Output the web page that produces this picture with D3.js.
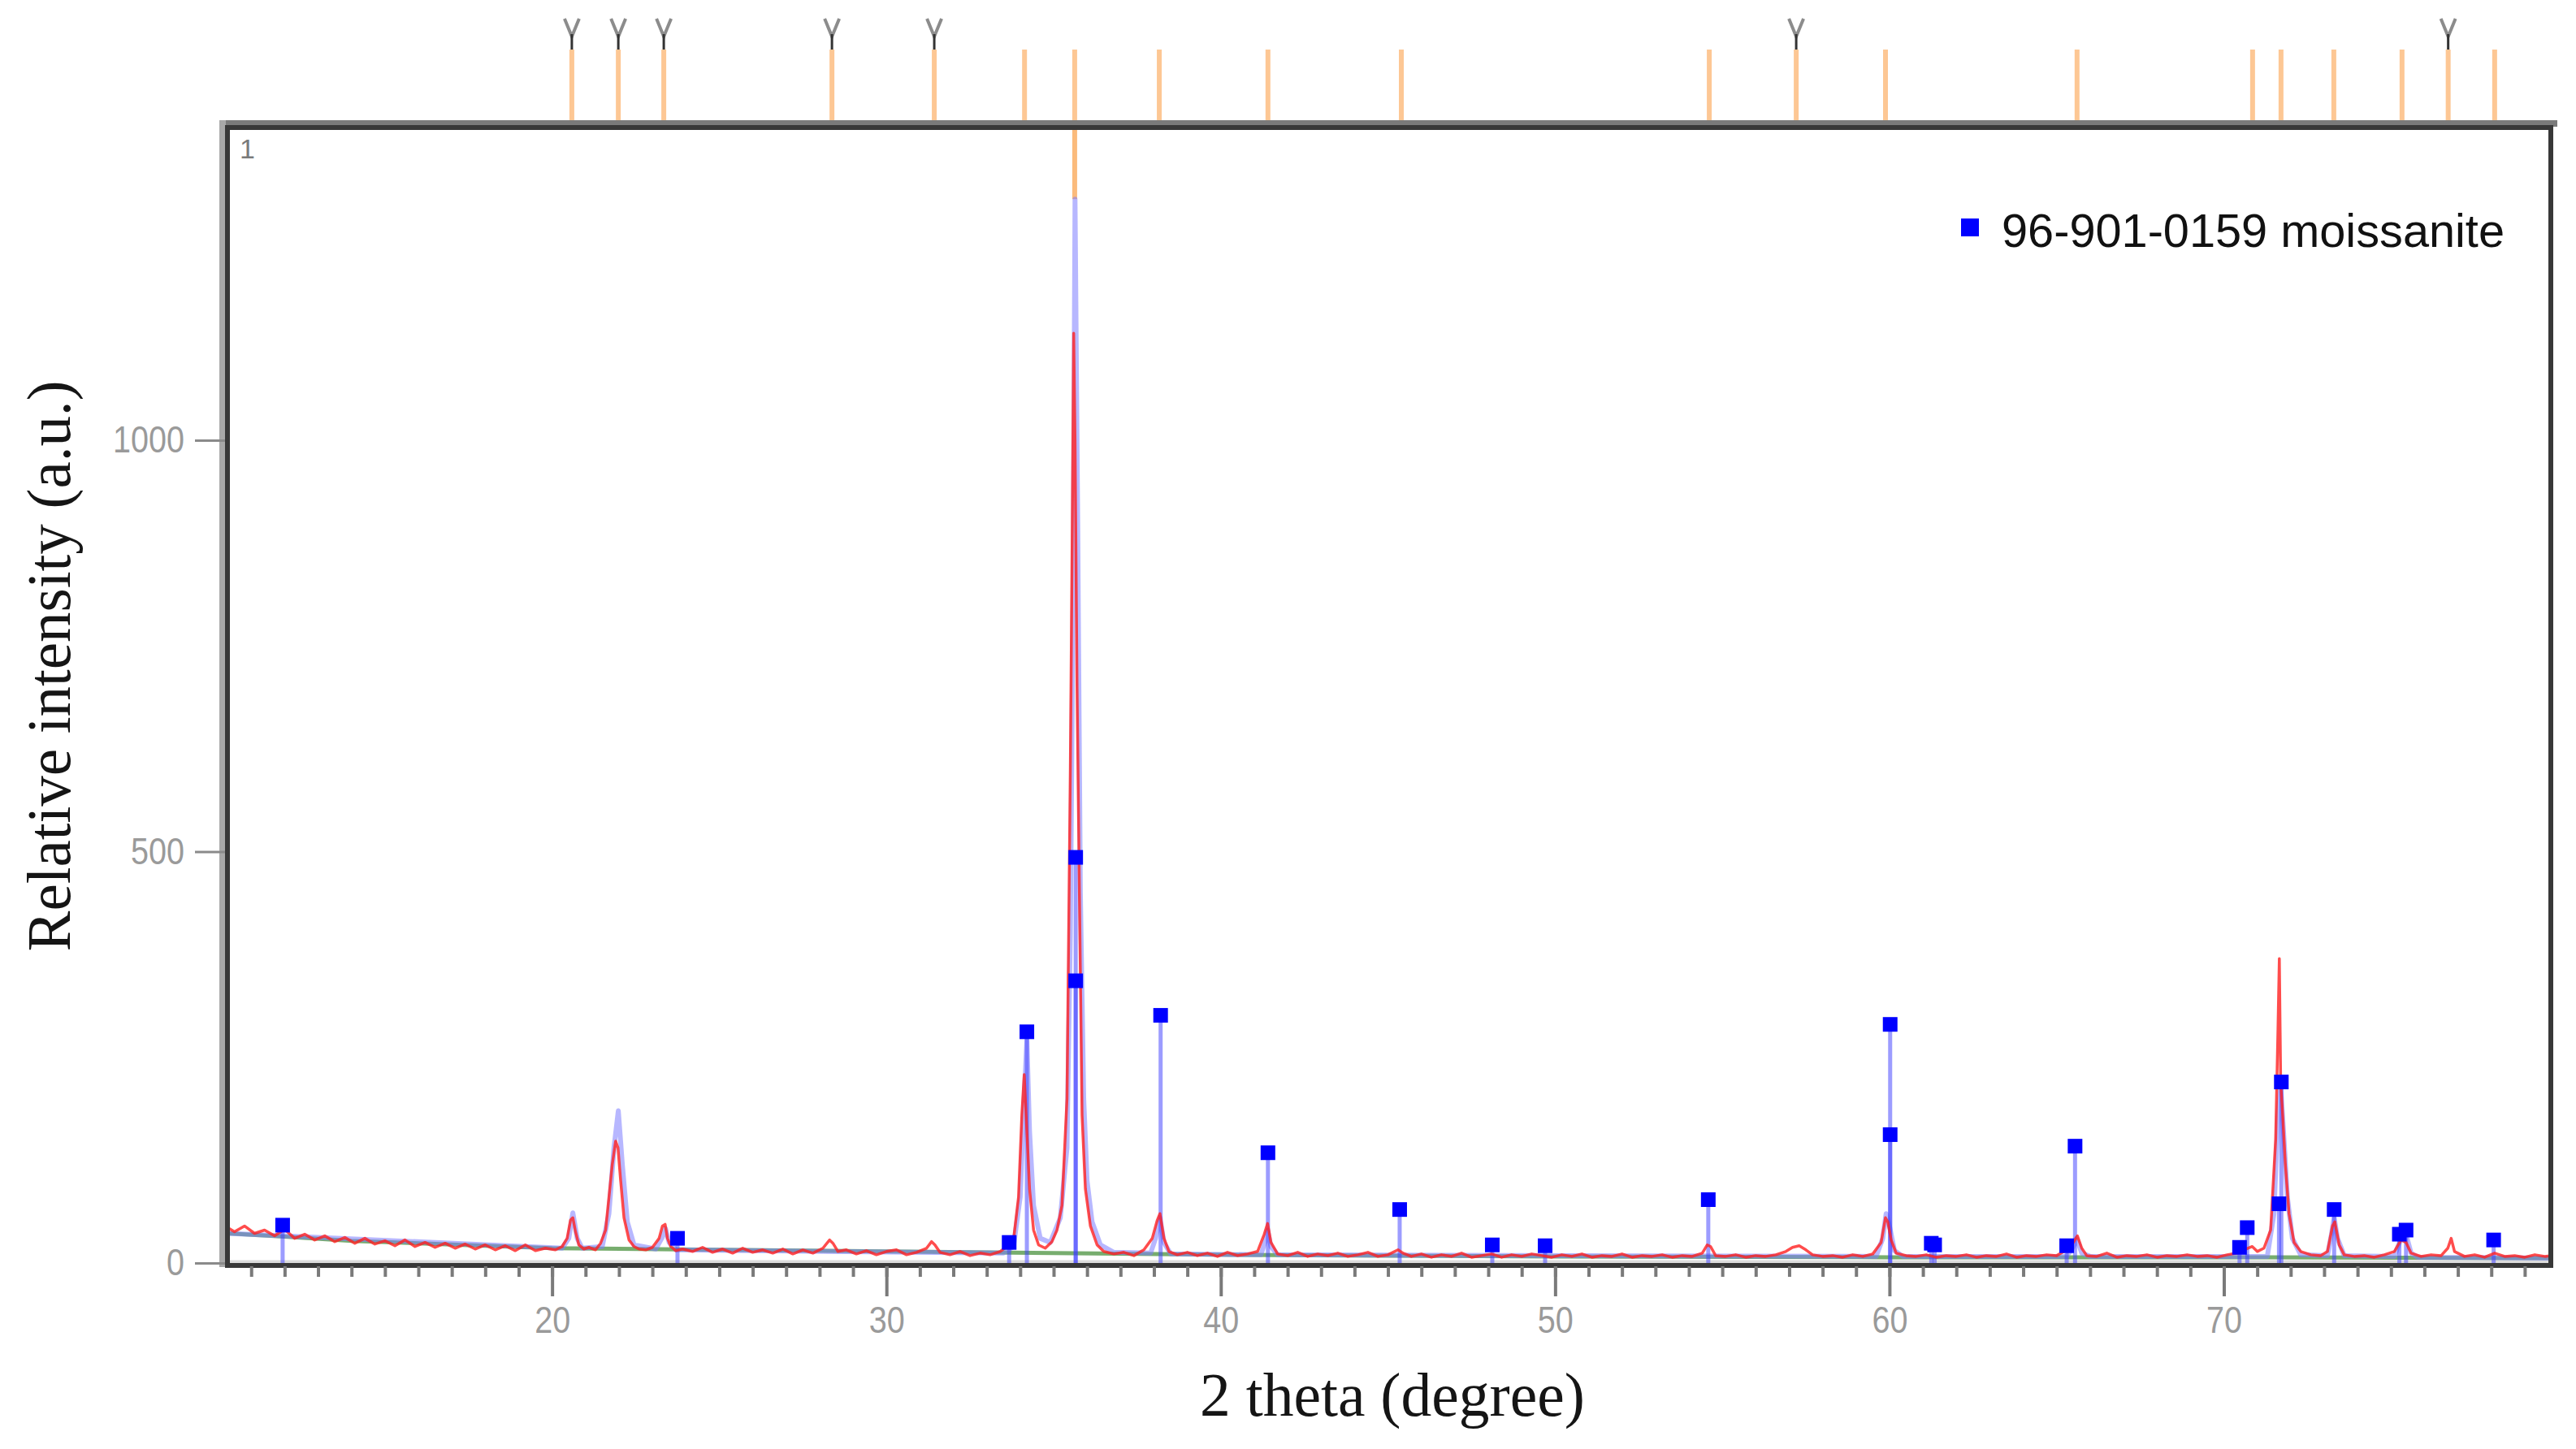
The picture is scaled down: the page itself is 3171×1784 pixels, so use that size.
<!DOCTYPE html>
<html><head><meta charset="utf-8">
<script src="https://cdn.jsdelivr.net/npm/d3@7"></script>
<style>body{margin:0;background:#fff}svg{display:block}</style>
</head><body>
<svg id="c" width="3171" height="1784"></svg>
<script>
// ---- data (2 theta in degrees, intensity in a.u.) ----
const observed = [
[10.25,44],[10.5,38],[10.8,45],[11.1,36],[11.4,40],[11.7,33],[12.0,41],[12.3,30],[12.6,35],[12.9,28],
[13.2,33],[13.5,26],[13.8,31],[14.1,24],[14.4,30],[14.7,23],[15.0,27],[15.3,21],[15.6,28],[15.9,20],
[16.2,25],[16.5,19],[16.8,24],[17.1,18],[17.4,23],[17.7,17],[18.0,22],[18.3,16],[18.6,21],[18.9,15],
[19.2,22],[19.5,15],[19.8,18],[20.1,16],[20.3,20],[20.45,30],[20.55,52],[20.62,55],[20.7,38],[20.8,22],
[20.95,17],[21.1,19],[21.3,16],[21.45,24],[21.6,40],[21.7,80],[21.8,120],[21.9,148],[21.97,140],[22.05,100],
[22.15,55],[22.3,28],[22.45,20],[22.6,17],[22.8,16],[23.0,19],[23.2,30],[23.3,45],[23.38,47],[23.45,30],
[23.55,20],[23.7,15],[23.9,17],[24.2,14],[24.5,19],[24.8,13],[25.1,17],[25.4,12],[25.7,18],[26.0,13],
[26.3,16],[26.6,12],[26.9,17],[27.2,11],[27.5,16],[27.8,12],[28.1,18],[28.3,28],[28.4,24],[28.55,14],
[28.8,16],[29.1,11],[29.4,15],[29.7,10],[30.0,14],[30.3,16],[30.6,10],[30.9,13],[31.2,18],[31.35,26],
[31.45,22],[31.6,13],[31.9,10],[32.2,14],[32.5,9],[32.8,12],[33.1,10],[33.4,14],[33.6,20],[33.8,28],
[33.95,80],[34.05,180],[34.12,229],[34.2,160],[34.28,90],[34.4,40],[34.55,22],[34.75,18],[34.95,26],[35.1,40],
[35.25,70],[35.4,200],[35.5,600],[35.56,904],[35.6,1130],[35.64,1000],[35.7,700],[35.78,420],[35.85,180],[35.95,90],
[36.1,45],[36.3,22],[36.5,14],[36.8,11],[37.1,13],[37.4,9],[37.7,16],[37.95,30],[38.1,52],[38.18,60],
[38.3,30],[38.45,14],[38.7,10],[39.0,13],[39.3,9],[39.6,12],[39.9,8],[40.2,13],[40.5,9],[40.8,11],
[41.1,14],[41.3,35],[41.4,48],[41.5,25],[41.7,11],[42.0,9],[42.3,13],[42.6,8],[42.9,11],[43.2,9],
[43.5,12],[43.8,8],[44.1,10],[44.4,13],[44.7,8],[45.0,10],[45.3,16],[45.45,12],[45.7,8],[46.0,11],
[46.3,7],[46.6,10],[46.9,8],[47.2,12],[47.5,7],[47.8,9],[48.1,11],[48.4,7],[48.7,10],[49.0,8],
[49.3,11],[49.6,9],[49.9,7],[50.2,10],[50.5,8],[50.8,11],[51.1,7],[51.4,9],[51.7,8],[52.0,11],
[52.3,7],[52.6,9],[52.9,8],[53.2,10],[53.5,7],[53.8,9],[54.1,8],[54.4,12],[54.55,22],[54.65,20],
[54.8,9],[55.1,8],[55.4,10],[55.7,7],[56.0,9],[56.3,8],[56.6,10],[56.9,14],[57.1,19],[57.3,21],
[57.5,16],[57.7,10],[58.0,8],[58.3,9],[58.6,7],[58.9,10],[59.2,8],[59.5,11],[59.75,25],[59.88,55],
[59.95,50],[60.05,28],[60.2,12],[60.5,9],[60.8,8],[61.1,10],[61.4,7],[61.7,9],[62.0,8],[62.3,10],
[62.6,7],[62.9,9],[63.2,8],[63.5,11],[63.8,7],[64.1,9],[64.4,8],[64.7,10],[65.0,9],[65.3,16],
[65.5,25],[65.62,33],[65.75,18],[65.9,9],[66.2,8],[66.5,12],[66.8,7],[67.1,9],[67.4,8],[67.7,10],
[68.0,7],[68.3,9],[68.6,8],[68.9,10],[69.2,8],[69.5,9],[69.8,7],[70.1,10],[70.4,12],[70.6,16],
[70.85,20],[71.0,14],[71.2,18],[71.4,40],[71.55,150],[71.62,284],[71.66,370],[71.7,220],[71.76,180],[71.84,120],
[71.95,60],[72.1,25],[72.3,14],[72.6,10],[72.9,9],[73.1,14],[73.25,45],[73.32,50],[73.45,22],[73.6,10],
[73.9,8],[74.2,9],[74.5,7],[74.8,10],[75.1,14],[75.3,28],[75.45,25],[75.6,12],[75.9,8],[76.2,10],
[76.5,9],[76.7,18],[76.8,30],[76.9,14],[77.2,8],[77.5,10],[77.8,7],[78.1,12],[78.4,8],[78.7,9],
[79.0,7],[79.3,10],[79.6,8],[79.78,9]
];
const background = [
[10.29,36],[12,32],[14,27],[16,24],[18,21],[20,18],[25,16],[30,14],[35,12],[40,10],[45,9],[50,8],[60,7],[70,7],[79.78,6]
];
const calculated = [
[10.29,36],[20.3,18],[20.5,30],[20.62,61],[20.75,30],[20.9,18],[21.5,20],[21.7,60],[21.85,140],[21.98,185],
[22.1,120],[22.25,50],[22.45,22],[23.1,17],[23.28,30],[23.39,42],[23.5,25],[23.7,16],[33.5,12],[33.8,20],
[34.0,80],[34.12,200],[34.2,271],[34.28,160],[34.4,70],[34.6,30],[34.9,25],[35.2,55],[35.4,140],[35.5,400],
[35.58,800],[35.64,1293],[35.72,900],[35.8,450],[35.9,200],[36.0,100],[36.15,50],[36.4,22],[36.8,13],[37.9,12],
[38.05,30],[38.18,55],[38.3,25],[38.5,11],[41.2,10],[41.32,25],[41.4,40],[41.5,20],[41.7,10],[59.6,8],
[59.8,30],[59.9,60],[60.0,45],[60.15,15],[60.4,8],[65.3,8],[65.5,20],[65.6,30],[65.75,12],[66.0,8],
[71.3,8],[71.5,60],[71.62,180],[71.7,215],[71.8,150],[71.9,80],[72.05,30],[72.3,10],[73.1,9],[73.22,35],
[73.3,55],[73.4,30],[73.6,9],[75.1,8],[75.3,30],[75.45,35],[75.6,12],[75.8,7],[79.78,6]
];
const refName = "96-901-0159 moissanite";
const refSticks = [
[11.94,46],[23.75,30],[33.67,25],[34.2,281],[35.66,493],[35.66,343],[38.2,301],[41.41,134],[45.35,65],[48.12,22],
[49.7,21],[54.58,77],[60.02,290],[60.02,156],[61.25,24],[61.35,22],[65.3,21],[65.55,142],[70.47,19],[70.7,43],
[71.65,72],[71.72,220],[73.3,65],[75.25,35],[75.45,40],[78.07,28]
];
const peakMarkers = [20.59,21.98,23.34,28.37,31.43,34.13,35.63,38.16,41.41,45.40,54.61,57.21,59.88,65.61,70.86,71.71,73.29,75.33,76.71,78.10];
const flaggedMarkers = [20.59,21.98,23.34,28.37,31.43,57.21,76.71];
const xMajorTicks = [20,30,40,50,60,70];
const yTickValues = [0,500,1000];
const xTitle = "2 theta (degree)";
const yTitle = "Relative intensity (a.u.)";
const panelLabel = "1";

// ---- drawing ----
const svg = d3.select("#c");
const L = 280, R = 3140, T = 155, B = 1555;
const x = d3.scaleLinear().domain([10.29, 79.78]).range([L, R]);
const y = d3.scaleLinear().domain([0, 1382]).range([B, T]);

svg.append("rect").attr("width",3171).attr("height",1784).attr("fill","#fff");

svg.append("defs").append("clipPath").attr("id","clip")
  .append("rect").attr("x",L).attr("y",T+3).attr("width",R-L).attr("height",B-T);

// peak markers above plot
const mk = svg.append("g");
mk.selectAll("line").data(peakMarkers).join("line")
  .attr("x1",d=>x(d)).attr("x2",d=>x(d)).attr("y1",61).attr("y2",150)
  .attr("stroke","#fcb979").attr("stroke-width",6).attr("stroke-opacity",0.8);
mk.selectAll("path").data(flaggedMarkers).join("path")
  .attr("d",d=>`M${x(d)-9},23 L${x(d)},45 L${x(d)+9},23`)
  .attr("fill","none").attr("stroke","#8c8c8c").attr("stroke-width",4);
mk.selectAll("line.stem").data(flaggedMarkers).join("line").attr("class","stem")
  .attr("x1",d=>x(d)).attr("x2",d=>x(d)).attr("y1",42).attr("y2",61)
  .attr("stroke","#333").attr("stroke-width",3);

// plot content
const plot = svg.append("g").attr("clip-path","url(#clip)");
plot.append("line").attr("x1",L).attr("x2",R).attr("y1",y(0)-1).attr("y2",y(0)-1)
  .attr("stroke","#dcdcdc").attr("stroke-width",5);

// strongest marker extends into the plot down to the calculated maximum
const maxCalc = d3.max(calculated, d=>d[1]);
const maxAt = calculated.find(d=>d[1]===maxCalc)[0];
const strongest = peakMarkers.reduce((a,b)=>Math.abs(b-maxAt)<Math.abs(a-maxAt)?b:a);
plot.append("line").attr("x1",x(strongest)).attr("x2",x(strongest)).attr("y1",T).attr("y2",y(maxCalc))
  .attr("stroke","#fbb46e").attr("stroke-width",6).attr("stroke-opacity",0.9);

const line = d3.line().x(d=>x(d[0])).y(d=>y(d[1]));
plot.append("path").datum(background).attr("d",line).attr("fill","none")
  .attr("stroke","#5f9f55").attr("stroke-width",5).attr("stroke-opacity",0.85);
plot.append("path").datum(calculated).attr("d",line).attr("fill","none")
  .attr("stroke","#7b7bff").attr("stroke-width",6).attr("stroke-opacity",0.55).attr("stroke-linejoin","round");
plot.selectAll("line.stick").data(refSticks).join("line").attr("class","stick")
  .attr("x1",d=>x(d[0])).attr("x2",d=>x(d[0])).attr("y1",y(0)).attr("y2",d=>y(d[1]))
  .attr("stroke","#3a3aff").attr("stroke-width",5).attr("stroke-opacity",0.5);
plot.append("path").datum(observed).attr("d",line).attr("fill","none")
  .attr("stroke","#ff1f1f").attr("stroke-width",3.5).attr("stroke-opacity",0.8).attr("stroke-linejoin","round");
plot.selectAll("rect.sq").data(refSticks).join("rect").attr("class","sq")
  .attr("x",d=>x(d[0])-9).attr("y",d=>y(d[1])-9).attr("width",18).attr("height",18)
  .attr("fill","#0000ff");

// frame
svg.append("rect").attr("x",270).attr("y",148).attr("width",R-270+8).attr("height",8).attr("fill","#7a7a7a");
svg.append("rect").attr("x",270).attr("y",148).attr("width",8).attr("height",1412).attr("fill","#a8a8a8");
svg.append("rect").attr("x",L).attr("y",T+2).attr("width",R-L).attr("height",B-T+1)
  .attr("fill","none").attr("stroke","#383838").attr("stroke-width",6);

// axes
const tickFont = "'Liberation Sans Narrow','Liberation Sans',Arial,sans-serif";
const xMinor = svg.append("g").attr("transform",`translate(0,${B+4})`)
  .call(d3.axisBottom(x).tickValues(d3.range(11,80)).tickSize(13).tickFormat(""));
xMinor.select(".domain").remove();
xMinor.selectAll("line").attr("stroke","#7a7a7a").attr("stroke-width",4);
const xAx = svg.append("g").attr("transform",`translate(0,${B+4})`)
  .call(d3.axisBottom(x).tickValues(xMajorTicks).tickSize(37).tickPadding(12).tickFormat(d3.format("d")));
xAx.select(".domain").remove();
xAx.selectAll("line").attr("stroke","#7a7a7a").attr("stroke-width",4);
xAx.selectAll("text").attr("font-family",tickFont).attr("font-size",46).attr("fill","#9a9a9a")
  .attr("textLength",d=>String(d).length*22).attr("lengthAdjust","spacingAndGlyphs");

const yAx = svg.append("g").attr("transform",`translate(${L-3},0)`)
  .call(d3.axisLeft(y).tickValues(yTickValues).tickSize(37).tickPadding(13).tickFormat(d3.format("d")));
yAx.select(".domain").remove();
yAx.selectAll("line").attr("stroke","#8a8a8a").attr("stroke-width",3);
yAx.selectAll("text").attr("font-family",tickFont).attr("font-size",46).attr("fill","#9a9a9a")
  .attr("textLength",d=>String(d).length*22).attr("lengthAdjust","spacingAndGlyphs");

// titles
svg.append("text").attr("x",1714).attr("y",1743).attr("text-anchor","middle")
  .attr("font-family","'Liberation Serif','Times New Roman',serif").attr("font-size",76).attr("fill","#151515")
  .attr("textLength",474).attr("lengthAdjust","spacingAndGlyphs").text(xTitle);
svg.append("text").attr("transform","translate(86,820) rotate(-90)").attr("text-anchor","middle")
  .attr("font-family","'Liberation Serif','Times New Roman',serif").attr("font-size",76).attr("fill","#151515")
  .attr("textLength",703).attr("lengthAdjust","spacingAndGlyphs").text(yTitle);

svg.append("text").attr("x",295).attr("y",195).attr("font-family","'Liberation Sans',Arial,sans-serif")
  .attr("font-size",34).attr("fill","#7a7a7a").text(panelLabel);

// legend
const lg = svg.append("g");
lg.append("rect").attr("x",2414).attr("y",269).attr("width",22).attr("height",22).attr("fill","#0000ff");
lg.append("text").attr("x",2464).attr("y",304).attr("font-family","'Liberation Sans',Arial,sans-serif")
  .attr("font-size",58).attr("fill","#111").attr("textLength",619).attr("lengthAdjust","spacingAndGlyphs").text(refName);
</script>
</body></html>
